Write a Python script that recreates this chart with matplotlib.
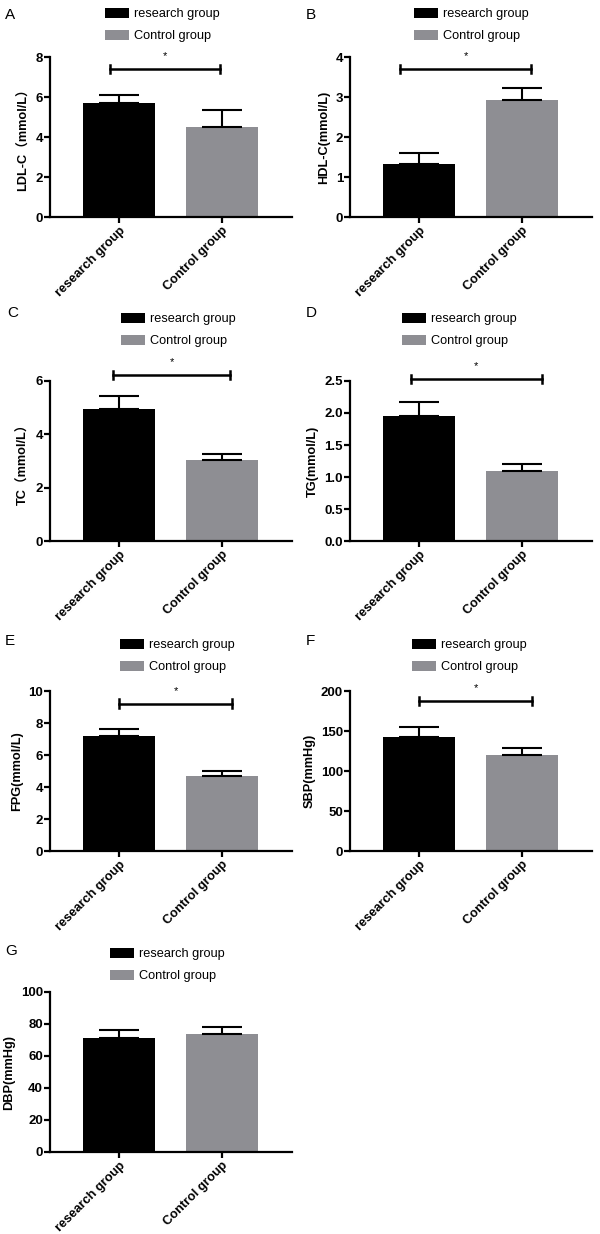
import matplotlib
matplotlib.use("Agg")
import matplotlib.pyplot as plt
import numpy as np

plt.rcParams['font.family'] = ['Liberation Sans', 'Noto Sans CJK SC', 'DejaVu Sans']

# ---------------- data ----------------
panel_letters = ['A', 'B', 'C', 'D', 'E', 'F', 'G']
groups = ['research group', 'Control group']
ylabels = ['LDL-C\uff08mmol/L\uff09', 'HDL-C(mmol/L)', 'TC\uff08mmol/L\uff09',
           'TG(mmol/L)', 'FPG(mmol/L)', 'SBP(mmHg)', 'DBP(mmHg)']
research_mean = [5.72, 1.33, 4.95, 1.95, 7.2, 142.5, 71.0]
research_sd = [0.38, 0.28, 0.50, 0.22, 0.45, 12.5, 5.0]
control_mean = [4.50, 2.92, 3.02, 1.10, 4.7, 120.0, 73.5]
control_sd = [0.83, 0.30, 0.23, 0.11, 0.30, 9.0, 4.5]
y_max = [8, 4, 6, 2.5, 10, 200, 100]
y_step = [2, 1, 2, 0.5, 2, 50, 20]
y_tick_fmt = ['{:.0f}', '{:.0f}', '{:.0f}', '{:.1f}', '{:.0f}', '{:.0f}', '{:.0f}']
significant = [True, True, True, True, True, True, False]
sig_label = '*'

# ---------------- layout (pixels) ----------------
W, H = 600, 1234
fig = plt.figure(figsize=(W / 100, H / 100), dpi=100)

ax_left = [50, 350, 50, 350, 50, 350, 50]
ax_bottom = [217, 217, 541, 541, 851, 851, 1152]
ax_w, ax_h = 242, 160
letter_pos = [(5, 15), (306, 15), (7, 313), (306, 313), (5, 641), (306, 641), (5, 951)]
legend_pos = [(105, 8), (414, 8), (121, 313), (402, 313), (120, 639), (412, 639), (110, 948)]
sig_x = [(0.248, 0.702), (0.207, 0.748), (0.260, 0.744), (0.252, 0.793),
         (0.286, 0.752), (0.285, 0.752), (0, 0)]
sig_y = [0.925, 0.925, 1.0375, 1.0125, 0.919, 0.9375, 0]

black = '#000000'
gray = '#8e8e93'
fs = 9.2

for i in range(7):
    ax = fig.add_axes([ax_left[i] / W, 1 - ax_bottom[i] / H, ax_w / W, ax_h / H])
    x = np.arange(2)
    b1 = ax.bar(x[0], research_mean[i], width=0.69, color=black, label=groups[0], zorder=2)
    b2 = ax.bar(x[1], control_mean[i], width=0.69, color=gray, label=groups[1], zorder=2)
    ax.errorbar(x, [research_mean[i], control_mean[i]],
                yerr=[[0, 0], [research_sd[i], control_sd[i]]],
                fmt='none', ecolor='black', elinewidth=1.5, capsize=14.5, capthick=1.5, zorder=3)
    ax.set_xlim(-0.67, 1.68)
    ax.set_ylim(0, y_max[i])
    ticks = np.arange(0, y_max[i] + y_step[i] / 2, y_step[i])
    ax.set_yticks(ticks)
    ax.set_yticklabels([y_tick_fmt[i].format(t) for t in ticks], fontweight='bold', fontsize=9.5)
    ax.set_xticks(x)
    ax.set_xticklabels(groups, rotation=45, ha='right', va='top', rotation_mode='anchor',
                       fontweight='bold', fontsize=fs)
    ax.set_ylabel(ylabels[i], fontweight='bold', fontsize=fs, labelpad=4)
    for s in ['top', 'right']:
        ax.spines[s].set_visible(False)
    for s in ['left', 'bottom']:
        ax.spines[s].set_linewidth(1.6)
    ax.tick_params(axis='y', length=4, width=1.6, pad=1)
    ax.tick_params(axis='x', length=4.5, width=1.6, pad=1)

    if significant[i]:
        x0, x1 = sig_x[i]
        yy = sig_y[i]
        ax.plot([x0, x1], [yy, yy], color='black', lw=1.8, transform=ax.transAxes, clip_on=False)
        for xx in (x0, x1):
            ax.plot([xx, xx], [yy - 0.028, yy + 0.028], color='black', lw=1.8,
                    transform=ax.transAxes, clip_on=False)
        ax.text((x0 + x1) / 2, yy + 0.05, sig_label, ha='center', va='bottom', fontsize=8,
                transform=ax.transAxes)

    lx, ly = legend_pos[i]
    fig.legend(handles=[b1, b2], labels=groups, loc='upper left',
               bbox_to_anchor=(lx / W, 1 - ly / H), frameon=False, borderpad=0,
               borderaxespad=0, fontsize=fs, handlelength=1.85, handleheight=0.8,
               handletextpad=0.45, labelspacing=0.75)

    lx, ly = letter_pos[i]
    fig.text(lx / W, 1 - ly / H, panel_letters[i], fontsize=11, ha='left', va='center')

fig.savefig('out.png', dpi=100)
